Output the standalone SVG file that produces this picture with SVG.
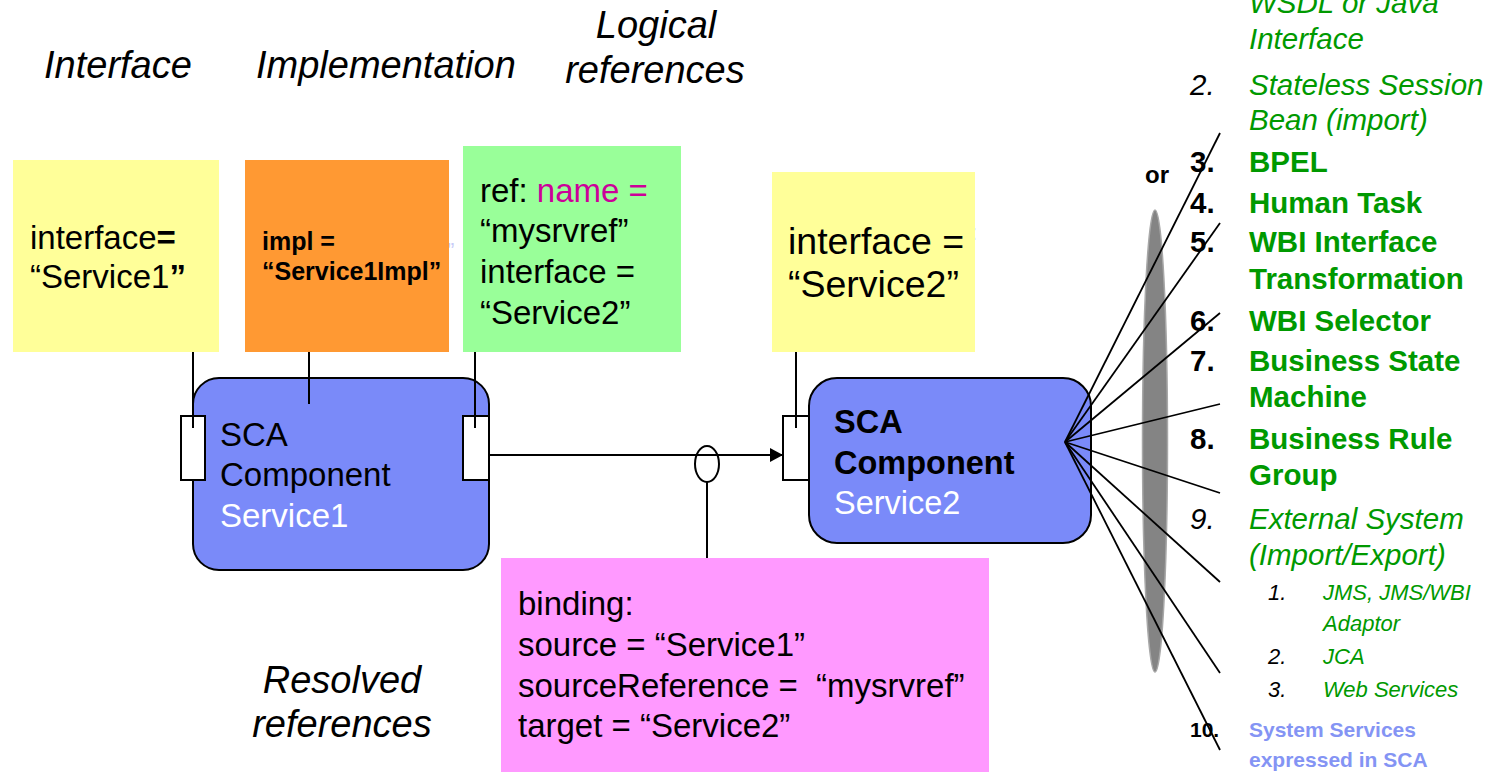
<svg xmlns="http://www.w3.org/2000/svg" width="1493" height="773" viewBox="0 0 1493 773">
<defs>
<style>
text{font-family:"Liberation Sans",Arial,sans-serif;fill:#000}
.hdr{font-size:38px;font-style:italic}
.n33{font-size:33px}
.b{font-weight:bold}
.it{font-style:italic}
.g{fill:#009900}
.li{font-size:29.5px}
.sub{font-size:22px;font-style:italic}
.sys{font-size:21px;font-weight:bold;fill:#8494F4}
.wh{fill:#ffffff}
.comp{fill:#7A8AF9;stroke:#000;stroke-width:2}
.port{fill:#ffffff;stroke:#000;stroke-width:2}
.ln{stroke:#000;stroke-width:2;fill:none}
.fan{stroke:#000;stroke-width:1.8;fill:none}
.faint{fill:#C8CCF8}
</style>
<marker id="arrow" markerUnits="userSpaceOnUse" markerWidth="14" markerHeight="14" refX="13" refY="7" orient="auto">
<path d="M0,0 L13,7 L0,14 z" fill="#000"/>
</marker>
</defs>
<rect width="1493" height="773" fill="#ffffff"/>

<g id="headers">
<text class="hdr" x="44" y="78">Interface</text>
<text class="hdr" x="256" y="78">Implementation</text>
<text class="hdr" x="656" y="38" text-anchor="middle">Logical</text>
<text class="hdr" x="655" y="83" text-anchor="middle">references</text>
<text class="hdr" x="342" y="693" text-anchor="middle">Resolved</text>
<text class="hdr" x="342" y="737" text-anchor="middle">references</text>
</g>

<g id="faint-marks">
<text class="faint" x="447" y="258" font-size="22">”</text>
<text class="faint" x="971" y="240" font-size="22">:</text>
</g>

<g id="note-interface1">
<rect x="13" y="160" width="206" height="192" fill="#FFFF99"/>
<text class="n33" x="30" y="249">interface<tspan class="b">=</tspan></text>
<text class="n33" x="30" y="288">“Service1<tspan class="b">”</tspan></text>
</g>

<g id="note-impl">
<rect x="245" y="160" width="204" height="192" fill="#FF9933"/>
<text class="b" font-size="25" x="262" y="250">impl =</text>
<text class="b" font-size="25" x="262" y="280">“Service1Impl”</text>
</g>

<g id="note-ref">
<rect x="463" y="146" width="218" height="206" fill="#99FF99"/>
<text class="n33" x="480" y="202">ref: <tspan fill="#CC0099">name =</tspan></text>
<text class="n33" x="480" y="242" fill="#CC0099">“mysrvref”</text>
<text class="n33" x="480" y="283">interface =</text>
<text class="n33" x="480" y="324">“Service2”</text>
</g>

<g id="note-interface2">
<rect x="772" y="172" width="203" height="180" fill="#FFFF99"/>
<text font-size="37.5" x="788" y="254">interface =</text>
<text font-size="37.5" x="788" y="297">“Service2”</text>
</g>

<g id="component1">
<rect class="comp" x="193" y="378" width="296" height="192" rx="26" ry="26"/>
<rect class="port" x="181" y="416" width="24" height="64"/>
<rect class="port" x="463" y="416" width="26" height="64"/>
<text class="n33" x="220" y="446">SCA</text>
<text class="n33" x="220" y="486">Component</text>
<text class="n33 wh" x="220" y="527">Service1</text>
</g>

<g id="component2">
<rect class="comp" x="809" y="378" width="282" height="165" rx="28" ry="28"/>
<rect class="port" x="783" y="416" width="26" height="64"/>
<text class="b" font-size="32.5" x="834" y="433">SCA</text>
<text class="b" font-size="32.5" x="834" y="474">Component</text>
<text class="wh" font-size="32.5" x="834" y="514">Service2</text>
</g>

<g id="binding">
<rect x="501" y="558" width="488" height="214" fill="#FF99FF"/>
<text class="n33" x="518" y="615">binding:</text>
<text class="n33" x="518" y="656">source = “Service1”</text>
<text class="n33" x="518" y="697">sourceReference = &#160;“mysrvref”</text>
<text class="n33" x="518" y="737">target = “Service2”</text>
</g>

<g id="selector-ellipse">
<ellipse cx="1155" cy="441" rx="12.5" ry="231" fill="#848484" stroke="#A8A8A8" stroke-width="1.5"/>
</g>

<g id="connectors">
<line class="ln" x1="193" y1="352" x2="193" y2="428"/>
<line class="ln" x1="309" y1="352" x2="309" y2="404"/>
<line class="ln" x1="475" y1="352" x2="475" y2="428"/>
<line class="ln" x1="796" y1="352" x2="796" y2="428"/>
<line class="ln" x1="489" y1="455" x2="783" y2="455" marker-end="url(#arrow)"/>
<ellipse class="ln" cx="707" cy="464" rx="12" ry="18"/>
<line class="ln" x1="707" y1="482" x2="707" y2="558"/>
<g id="fan">
<line class="fan" x1="1065" y1="442" x2="1220" y2="133"/>
<line class="fan" x1="1065" y1="442" x2="1220" y2="223"/>
<line class="fan" x1="1065" y1="442" x2="1220" y2="313"/>
<line class="fan" x1="1065" y1="442" x2="1220" y2="404"/>
<line class="fan" x1="1065" y1="442" x2="1220" y2="493"/>
<line class="fan" x1="1065" y1="442" x2="1220" y2="582"/>
<line class="fan" x1="1065" y1="442" x2="1220" y2="673"/>
<line class="fan" x1="1065" y1="442" x2="1220" y2="750"/>
</g>
</g>

<g id="impl-list">
<text class="li it g" x="1249" y="13">WSDL or Java</text>
<text class="li it g" x="1249" y="49">Interface</text>
<text class="li it" x="1190" y="95">2.</text>
<text class="li it g" x="1249" y="95">Stateless Session</text>
<text class="li it g" x="1249" y="130">Bean (import)</text>
<text class="b" font-size="24" x="1145" y="183">or</text>
<text class="li b" x="1190" y="172">3.</text>
<text class="li b g" x="1249" y="172">BPEL</text>
<text class="li b" x="1190" y="213">4.</text>
<text class="li b g" x="1249" y="213">Human Task</text>
<text class="li b" x="1190" y="252">5.</text>
<text class="li b g" x="1249" y="252">WBI Interface</text>
<text class="li b g" x="1249" y="289">Transformation</text>
<text class="li b" x="1190" y="331">6.</text>
<text class="li b g" x="1249" y="331">WBI Selector</text>
<text class="li b" x="1190" y="371">7.</text>
<text class="li b g" x="1249" y="371">Business State</text>
<text class="li b g" x="1249" y="407">Machine</text>
<text class="li b" x="1190" y="449">8.</text>
<text class="li b g" x="1249" y="449">Business Rule</text>
<text class="li b g" x="1249" y="485">Group</text>
<text class="li it" x="1190" y="529">9.</text>
<text class="li it g" x="1249" y="529">External System</text>
<text class="li it g" x="1249" y="565">(Import/Export)</text>
<text class="sub" x="1268" y="600">1.</text>
<text class="sub g" x="1323" y="600">JMS, JMS/WBI</text>
<text class="sub g" x="1323" y="631">Adaptor</text>
<text class="sub" x="1268" y="664">2.</text>
<text class="sub g" x="1323" y="664">JCA</text>
<text class="sub" x="1268" y="697">3.</text>
<text class="sub g" x="1323" y="697">Web Services</text>
<text class="b" font-size="21" x="1190" y="737">10.</text>
<text class="sys" x="1249" y="737">System Services</text>
<text class="sys" x="1249" y="767">expressed in SCA</text>
</g>
</svg>
